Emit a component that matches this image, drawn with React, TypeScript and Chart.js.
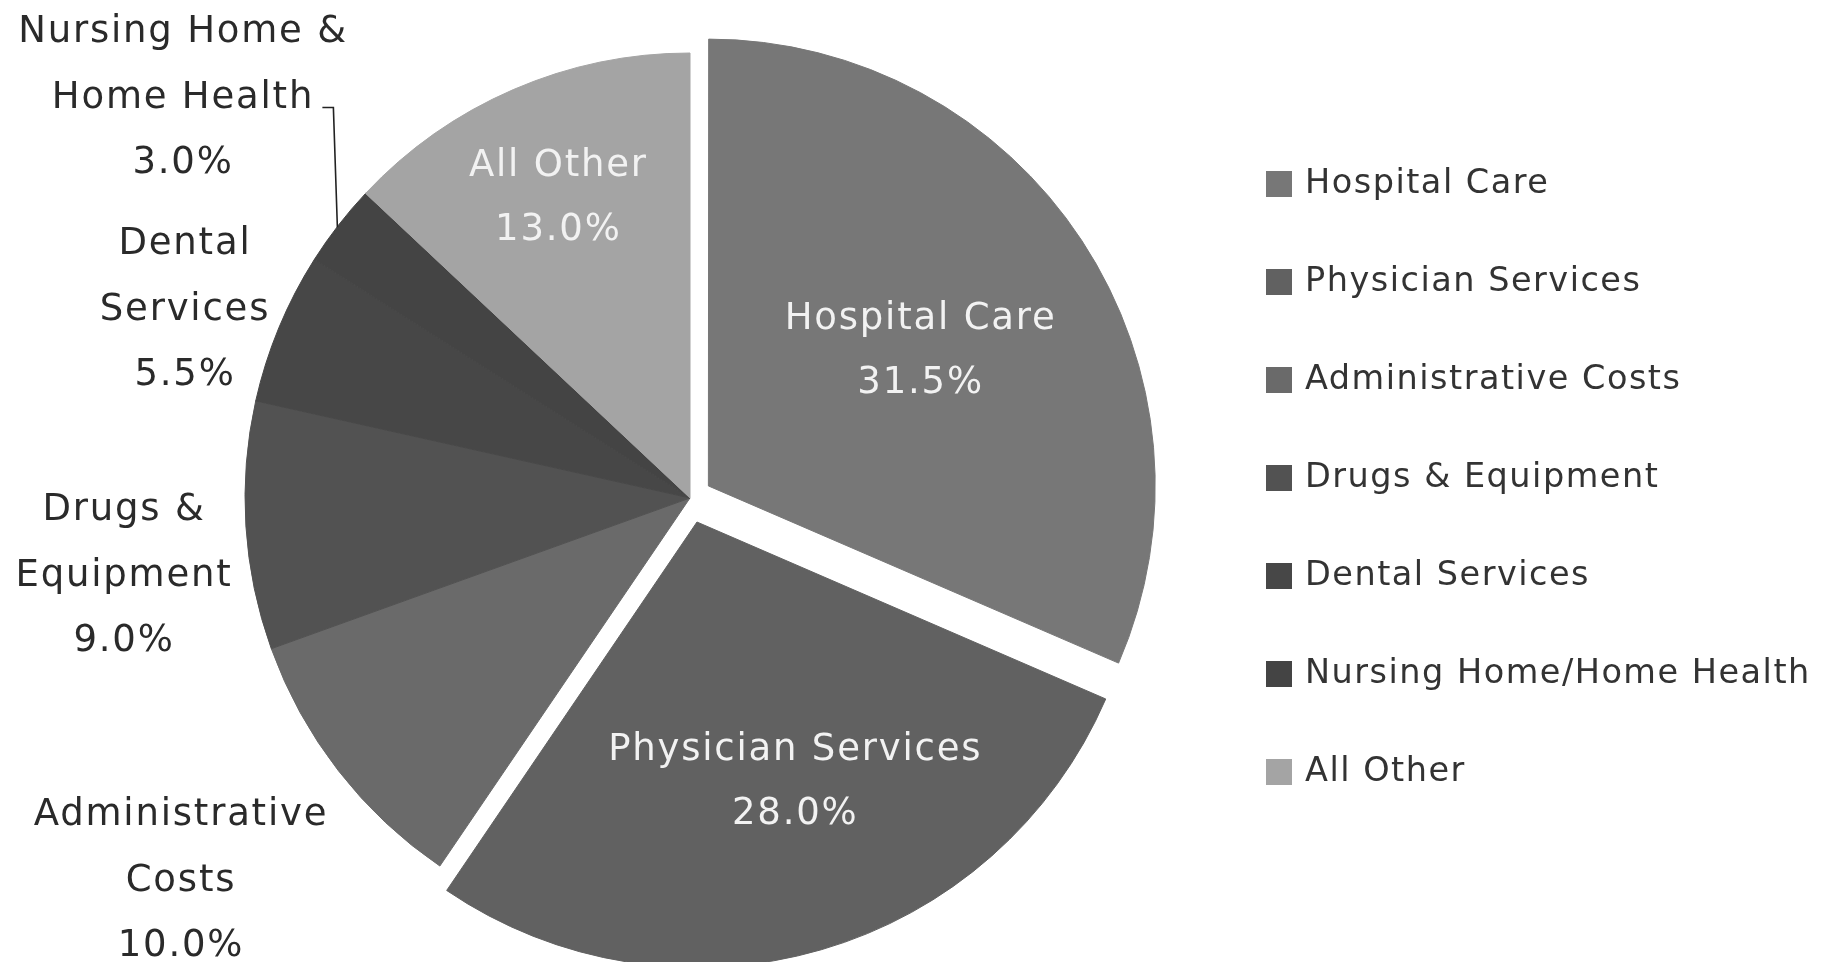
import React, { useEffect, useRef } from 'react';
import { Chart, registerables } from 'chart.js';

Chart.register(...registerables);

// ---------- data ----------
const categories: string[] = [
  'Hospital Care',
  'Physician Services',
  'Administrative Costs',
  'Drugs & Equipment',
  'Dental Services',
  'Nursing Home/Home Health',
  'All Other',
];
const shares: number[] = [31.5, 28.0, 10.0, 9.0, 5.5, 3.0, 13.0];
const sliceLabelLines: string[][] = [
  ['Hospital Care'],
  ['Physician Services'],
  ['Administrative', 'Costs'],
  ['Drugs &', 'Equipment'],
  ['Dental', 'Services'],
  ['Nursing Home &', 'Home Health'],
  ['All Other'],
];

// ---------- styles / layout ----------
const W = 1837;
const H = 962;
const sliceColors = ['#777777', '#616161', '#6a6a6a', '#525252', '#474747', '#444444', '#a4a4a4'];
// Chart.js translates an arc by offset/4
const sliceOffsets = [88, 100, 0, 0, 0, 0, 0];
const PIE_RADIUS = 445;
const FONT = "'DejaVu Sans', 'Noto Sans', sans-serif";

// labels drawn inside slices: radial fraction and small angular nudge (degrees)
const insidePlacement: Record<number, { frac: number; dAng: number }> = {
  0: { frac: 0.62, dAng: 0 },
  1: { frac: 0.672, dAng: -4.4 },
  6: { frac: 0.745, dAng: 0 },
};
// labels drawn outside on the left: centre x and first baseline
const outsidePlacement: Record<number, { x: number; y: number }> = {
  5: { x: 183, y: 42 },
  4: { x: 185, y: 254 },
  3: { x: 124, y: 520 },
  2: { x: 181, y: 825 },
};
const OUT_LINE_GAP = 65.5;
const IN_LINE_GAP = 64;
const LEGEND_X = 1266;
const LEGEND_Y0 = 184;
const LEGEND_STEP = 98;
const LEGEND_BOX = 26;

const fmtPct = (v: number) => v.toFixed(1) + '%';

const labelPlugin = {
  id: 'sliceLabels',
  afterDatasetsDraw(chart: any) {
    const ctx: CanvasRenderingContext2D = chart.ctx;
    const meta = chart.getDatasetMeta(0);
    ctx.save();
    ctx.textAlign = 'center';
    ctx.textBaseline = 'alphabetic';

    meta.data.forEach((arc: any, i: number) => {
      const p = arc.getProps(['x', 'y', 'startAngle', 'endAngle', 'outerRadius'], true);
      const mid = (p.startAngle + p.endAngle) / 2;
      const lines = [...sliceLabelLines[i], fmtPct(shares[i])];

      if (insidePlacement[i]) {
        const { frac, dAng } = insidePlacement[i];
        const a = mid + (dAng * Math.PI) / 180;
        const cx = p.x + Math.cos(a) * p.outerRadius * frac;
        const cy = p.y + Math.sin(a) * p.outerRadius * frac;
        ctx.fillStyle = '#f2f2f2';
        ctx.font = `37px ${FONT}`;
        (ctx as any).letterSpacing = '1.8px';
        const n = lines.length;
        lines.forEach((t, k) => {
          const by = cy - ((n - 1) * IN_LINE_GAP) / 2 + k * IN_LINE_GAP + 14;
          ctx.fillText(t, cx, by);
        });
      } else if (outsidePlacement[i]) {
        const { x, y } = outsidePlacement[i];
        ctx.fillStyle = '#2a2a2a';
        ctx.font = `37px ${FONT}`;
        (ctx as any).letterSpacing = '1.8px';
        lines.forEach((t, k) => {
          ctx.fillText(t, x, y + k * OUT_LINE_GAP);
        });
        if (i === 5) {
          // leader line from slice edge up to label
          const ex = p.x + Math.cos(mid) * p.outerRadius;
          const ey = p.y + Math.sin(mid) * p.outerRadius;
          const ty = y + OUT_LINE_GAP;
          ctx.strokeStyle = '#222';
          ctx.lineWidth = 1.6;
          ctx.beginPath();
          ctx.moveTo(ex - 1, ey + 2);
          ctx.lineTo(ex - 5, ty);
          ctx.lineTo(ex - 16, ty);
          ctx.stroke();
        }
      }
    });

    // legend
    ctx.textAlign = 'left';
    ctx.font = `33.5px ${FONT}`;
    (ctx as any).letterSpacing = '1.5px';
    categories.forEach((c, i) => {
      const cy = LEGEND_Y0 + i * LEGEND_STEP;
      ctx.fillStyle = sliceColors[i];
      ctx.fillRect(LEGEND_X, cy - LEGEND_BOX / 2, LEGEND_BOX, LEGEND_BOX);
      ctx.fillStyle = '#333';
      ctx.fillText(c, LEGEND_X + 39, cy + 9);
    });
    (ctx as any).letterSpacing = '0px';
    ctx.restore();
  },
};

export default function App() {
  const ref = useRef<HTMLCanvasElement | null>(null);
  useEffect(() => {
    if (!ref.current) return;
    const chart = new Chart(ref.current, {
      type: 'pie',
      data: {
        labels: categories,
        datasets: [
          {
            data: shares,
            backgroundColor: sliceColors,
            borderColor: sliceColors,
            borderWidth: 1,
            offset: sliceOffsets,
            clip: false,
          } as any,
        ],
      },
      options: {
        responsive: false,
        animation: false,
        events: [],
        radius: PIE_RADIUS,
        layout: { padding: { left: 0, right: 457, top: 34, bottom: 0 } },
        plugins: {
          legend: { display: false },
          tooltip: { enabled: false },
        },
      } as any,
      plugins: [labelPlugin],
    });
    return () => chart.destroy();
  }, []);
  return (
    <div style={{ position: 'absolute', left: 0, top: 0, width: W, height: H, background: '#fff', overflow: 'hidden' }}>
      <canvas ref={ref} width={W} height={H} style={{ width: W, height: H, display: 'block' }} />
    </div>
  );
}
